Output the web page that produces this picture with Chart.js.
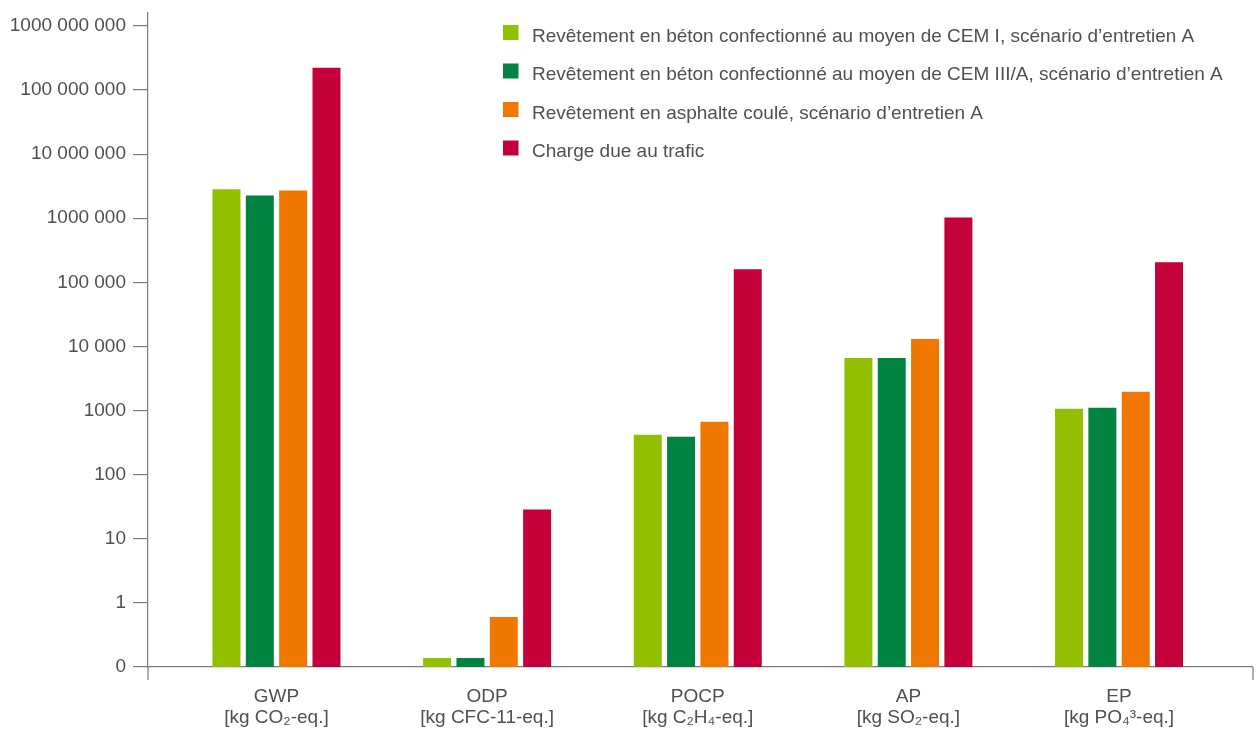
<!DOCTYPE html>
<html>
<head>
<meta charset="utf-8">
<script src="https://cdn.jsdelivr.net/npm/chart.js@4/dist/chart.umd.min.js"></script>
<style>
  html, body { margin: 0; padding: 0; background: #ffffff; }
  #wrap { width: 1256px; height: 731px; }
</style>
</head>
<body>
<div id="wrap"><canvas id="chart" width="1256" height="731"></canvas></div>
<script>
// Impact categories and their reference units
const categories = ['GWP', 'ODP', 'POCP', 'AP', 'EP'];
const units = ['[kg CO₂-eq.]', '[kg CFC-11-eq.]', '[kg C₂H₄-eq.]', '[kg SO₂-eq.]', '[kg PO₄³-eq.]'];

// Series names
const seriesLabels = [
  'Revêtement en béton confectionné au moyen de CEM I, scénario d’entretien A',
  'Revêtement en béton confectionné au moyen de CEM III/A, scénario d’entretien A',
  'Revêtement en asphalte coulé, scénario d’entretien A',
  'Charge due au trafic'
];

// Values per category (GWP, ODP, POCP, AP, EP)
const betonCemI    = [2820000, 0.138, 421, 6630, 1070];
const betonCemIIIA = [2270000, 0.138, 392, 6630, 1110];
const asphalte     = [2720000, 0.6, 670, 13100, 1960];
const trafic       = [222000000, 28.7, 160000, 1030000, 206000];

// Logarithmic axis ticks and their printed labels
const tickValues = [0.1, 1, 10, 100, 1000, 1e4, 1e5, 1e6, 1e7, 1e8, 1e9];
const tickLabels = ['0', '1', '10', '100', '1000', '10 000', '100 000', '1000 000',
                    '10 000 000', '100 000 000', '1000 000 000'];

const seriesColors = ['#92c000', '#00843f', '#f07800', '#c4003a'];

const FONT = '"Liberation Sans", Arial, Helvetica, sans-serif';
const FONT_SIZE = 19;
const TEXT = '#505050';
const AXIS = '#7a7a7a';

const seriesValues = [betonCemI, betonCemIIIA, asphalte, trafic];
const datasets = seriesValues.map((vals, s) => ({
  label: seriesLabels[s],
  data: vals.map((v, i) => ({ x: i, y: v })),
  backgroundColor: seriesColors[s],
  borderWidth: 0,
  categoryPercentage: 0.633,
  barPercentage: 0.84
}));

// Legend drawn inside the plot, top right; plus the short end marks under the base line
const chartDecor = {
  id: 'chartDecor',
  afterDraw(chart) {
    const ctx = chart.ctx;
    const area = chart.chartArea;
    ctx.save();
    ctx.strokeStyle = AXIS;
    ctx.lineWidth = 1.2;
    ctx.beginPath();
    ctx.moveTo(area.left, area.bottom);
    ctx.lineTo(area.left, area.bottom + 13);
    ctx.moveTo(area.right, area.bottom);
    ctx.lineTo(area.right, area.bottom + 13);
    ctx.stroke();

    ctx.font = FONT_SIZE + 'px ' + FONT;
    ctx.textBaseline = 'alphabetic';
    ctx.textAlign = 'left';
    chart.data.datasets.forEach((ds, i) => {
      const top = 25 + i * 38.5;
      ctx.fillStyle = ds.backgroundColor;
      ctx.fillRect(503, top, 15.5, 15);
      ctx.fillStyle = TEXT;
      ctx.fillText(ds.label, 532, top + 16.7);
    });
    ctx.restore();
  }
};

new Chart(document.getElementById('chart'), {
  type: 'bar',
  data: { datasets },
  plugins: [chartDecor],
  options: {
    responsive: false,
    animation: false,
    devicePixelRatio: 1,
    layout: { padding: { left: 0, right: 3, top: 13, bottom: 0 } },
    plugins: { legend: { display: false }, tooltip: { enabled: false } },
    scales: {
      x: {
        type: 'linear',
        min: -0.61,
        max: 4.636,
        offset: false,
        border: { color: AXIS, width: 1.2 },
        grid: {
          drawOnChartArea: false,
          drawTicks: true,
          tickLength: 13,
          lineWidth: 0,
          color: 'rgba(0,0,0,0)'
        },
        afterBuildTicks: (scale) => {
          scale.ticks = categories.map((c, i) => ({ value: i }));
        },
        afterFit: (scale) => {
          scale.height = 64;
          scale.paddingLeft = 0;
          scale.paddingRight = 0;
        },
        ticks: {
          autoSkip: false,
          maxRotation: 0,
          padding: 7,
          color: TEXT,
          font: { family: FONT, size: FONT_SIZE, lineHeight: 1.08 },
          callback: (v) => categories[v] !== undefined ? [categories[v], units[v]] : ''
        }
      },
      y: {
        type: 'logarithmic',
        min: 0.1,
        max: 1.59e9,
        border: { color: AXIS, width: 1.2 },
        grid: { drawOnChartArea: false, drawTicks: true, tickLength: 15, lineWidth: 1.2, color: AXIS },
        afterBuildTicks: (scale) => {
          scale.ticks = tickValues.map(v => ({ value: v }));
        },
        afterFit: (scale) => {
          scale.width = 148;
          scale.paddingTop = 0;
          scale.paddingBottom = 0;
        },
        ticks: {
          padding: 7,
          color: TEXT,
          font: { family: FONT, size: FONT_SIZE },
          callback: (v, i) => tickLabels[i]
        }
      }
    }
  }
});
</script>
</body>
</html>
